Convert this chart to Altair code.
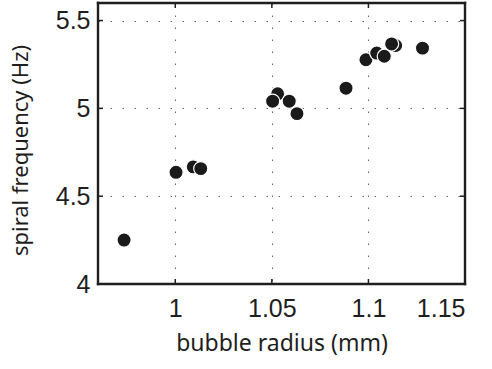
import altair as alt
import pandas as pd

# bubble radius (mm) and measured spiral frequency (Hz)
radius = [0.9735, 1.0004, 1.0093, 1.0132, 1.0530, 1.0504, 1.0590, 1.0630,
          1.0884, 1.0987, 1.1043, 1.1141, 1.1120, 1.1082, 1.1280]
frequency = [4.25, 4.636, 4.667, 4.657, 5.083, 5.041, 5.041, 4.97,
             5.115, 5.277, 5.315, 5.358, 5.367, 5.297, 5.343]

x_ticks = [1.0, 1.05, 1.1, 1.15]
y_ticks = [4.0, 4.5, 5.0, 5.5]

df = pd.DataFrame({"radius": radius, "frequency": frequency})
xt = pd.DataFrame({"v": x_ticks[:-1]})
yt = pd.DataFrame({"v": y_ticks[1:]})

x_scale = alt.Scale(domain=[0.96, 1.15], nice=False, zero=False)
y_scale = alt.Scale(domain=[4.0, 5.6], nice=False, zero=False)

W, H = 367, 281
INK = "#1e1e1e"
LABEL_FONT = "Arial, Liberation Sans, Helvetica, sans-serif"

x_axis = alt.Axis(values=x_ticks, format="~g", title="bubble radius (mm)",
                  grid=True, gridDash=[1.5, 10.5], gridColor="#666", gridWidth=1,
                  ticks=False, domain=False, labelPadding=12,
                  labelFont=LABEL_FONT, labelFontSize=25, labelColor=INK,
                  titleFont="Noto Sans", titleFontSize=23, titleFontWeight="normal",
                  titleColor=INK, titlePadding=11)
y_axis = alt.Axis(values=y_ticks, format="~g", title="spiral frequency (Hz)",
                  grid=True, gridDash=[1.5, 10.5], gridColor="#666", gridWidth=1,
                  ticks=False, domain=False, labelPadding=8,
                  labelFont=LABEL_FONT, labelFontSize=25, labelColor=INK,
                  titleFont="Noto Sans", titleFontSize=22, titleFontWeight="normal",
                  titleColor=INK, titlePadding=23, titleY=147)

points = alt.Chart(df).mark_circle(size=200, color="#1a1a1a", opacity=1,
                                   stroke="white", strokeWidth=1.2).encode(
    x=alt.X("radius:Q", scale=x_scale, axis=x_axis),
    y=alt.Y("frequency:Q", scale=y_scale, axis=y_axis),
)

# inward tick marks on all four sides of the frame
tick_style = dict(color=INK, strokeWidth=1.5)
xb = alt.Chart(xt).mark_rule(**tick_style).encode(
    x=alt.X("v:Q", scale=x_scale), y=alt.value(H), y2=alt.value(H - 5))
xtop = alt.Chart(xt).mark_rule(**tick_style).encode(
    x=alt.X("v:Q", scale=x_scale), y=alt.value(0), y2=alt.value(5))
yl = alt.Chart(yt).mark_rule(**tick_style).encode(
    y=alt.Y("v:Q", scale=y_scale), x=alt.value(0), x2=alt.value(5))
yr = alt.Chart(yt).mark_rule(**tick_style).encode(
    y=alt.Y("v:Q", scale=y_scale), x=alt.value(W), x2=alt.value(W - 5))

# box frame around the plot area, one rule per side
one = pd.DataFrame({"k": [0]})
frame_style = dict(color=INK, strokeWidth=2.4, strokeCap="square")
top = alt.Chart(one).mark_rule(**frame_style).encode(
    x=alt.value(0), x2=alt.value(W), y=alt.value(0))
bottom = alt.Chart(one).mark_rule(**frame_style).encode(
    x=alt.value(0), x2=alt.value(W), y=alt.value(H))
left = alt.Chart(one).mark_rule(**frame_style).encode(
    x=alt.value(0), y=alt.value(0), y2=alt.value(H))
right = alt.Chart(one).mark_rule(**frame_style).encode(
    x=alt.value(W), y=alt.value(0), y2=alt.value(H))

chart = alt.layer(xb, xtop, yl, yr, points, top, bottom, left, right).properties(
    width=W, height=H,
    autosize=alt.AutoSizeParams(type="none"),
    padding={"left": 98, "top": 3, "right": 27, "bottom": 85},
    background="white",
).configure_view(stroke=None)

chart.save("out.html", embed_options={"renderer": "svg", "actions": False})
